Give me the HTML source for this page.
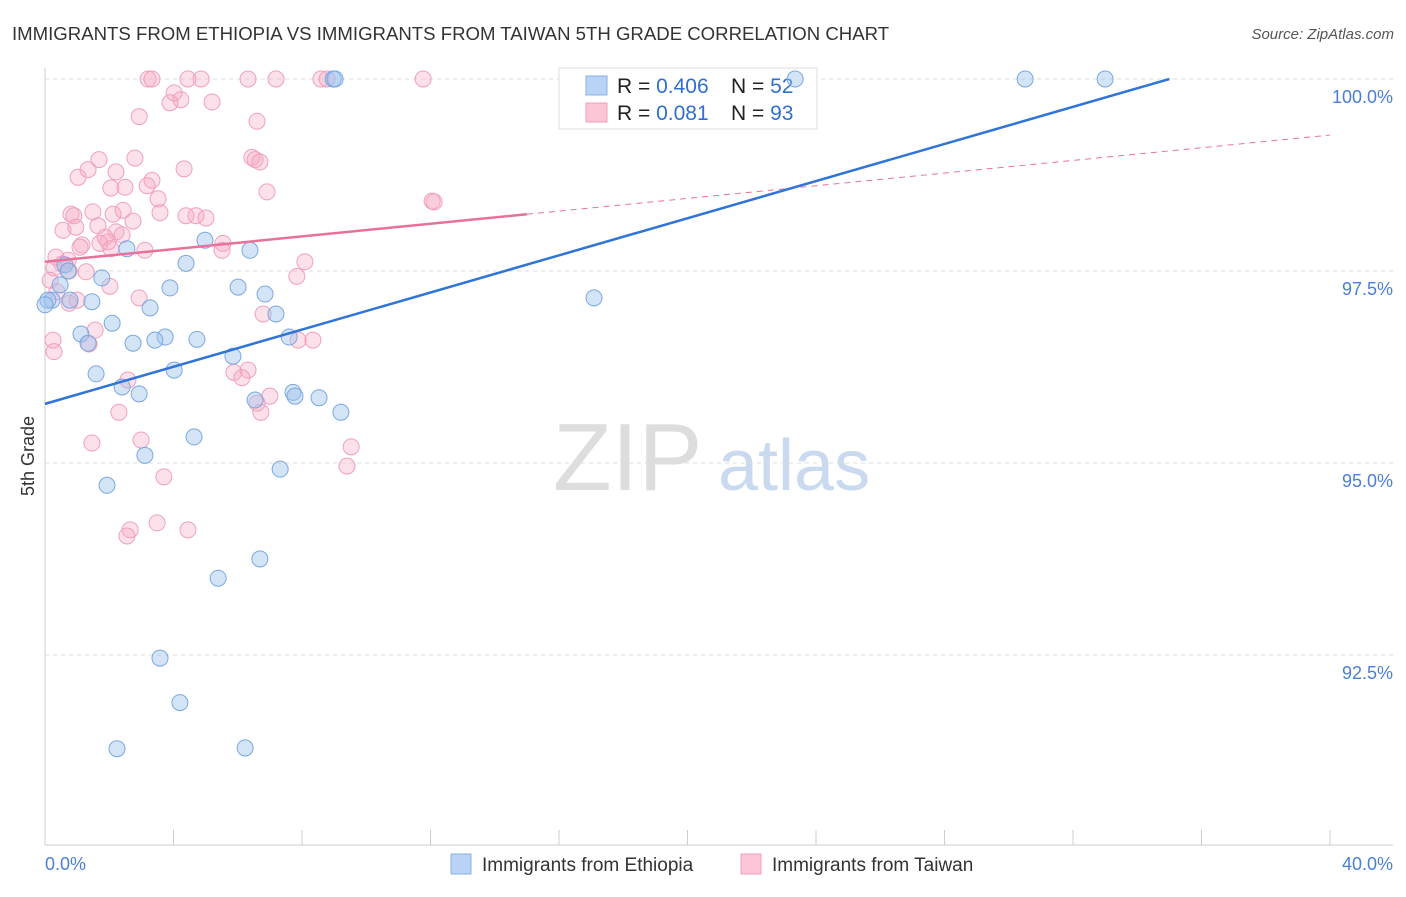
<!DOCTYPE html>
<html><head><meta charset="utf-8"><style>
body{margin:0;background:#fff;font-family:"Liberation Sans",sans-serif;}
svg text{font-family:"Liberation Sans",sans-serif;}
</style></head><body>
<svg id="c" width="1406" height="892" xmlns="http://www.w3.org/2000/svg">
<text x="12" y="40" font-size="18.6" fill="#333">IMMIGRANTS FROM ETHIOPIA VS IMMIGRANTS FROM TAIWAN 5TH GRADE CORRELATION CHART</text>
<text x="1394" y="39" font-size="15" font-style="italic" fill="#555" text-anchor="end">Source: ZipAtlas.com</text>
<text x="34" y="456" font-size="18" fill="#333" text-anchor="middle" transform="rotate(-90 34 456)">5th Grade</text>
<text x="553" y="490" font-size="96" fill="#ddd" font-family="Liberation Serif">ZIP</text>
<text x="718" y="490" font-size="72" fill="#c9daf0">atlas</text>
<g id="grid"></g>
<g>
<rect x="559" y="68" width="258" height="61" fill="#fff" stroke="#ddd"/>
<rect x="586" y="76" width="21" height="19" fill="#b8d3f5" stroke="#8ab0e4"/>
<rect x="586" y="103" width="21" height="19" fill="#fbc5d6" stroke="#f0a0bb"/>
<text x="617" y="93" font-size="21" fill="#222">R = <tspan fill="#2f6fd0">0.406</tspan></text>
<text x="731" y="93" font-size="21" fill="#222">N = <tspan fill="#2f6fd0">52</tspan></text>
<text x="617" y="120" font-size="21" fill="#222">R =  <tspan fill="#2f6fd0">0.081</tspan></text>
<text x="731" y="120" font-size="21" fill="#222">N = <tspan fill="#2f6fd0">93</tspan></text>
</g>
<g id="pts"></g><g id="lines"></g>
<g>
<rect x="451" y="854" width="20" height="20" fill="#b8d3f5" stroke="#8ab0e4"/>
<text x="482" y="871" font-size="19" fill="#333">Immigrants from Ethiopia</text>
<rect x="741" y="854" width="20" height="20" fill="#fbc5d6" stroke="#f0a0bb"/>
<text x="772" y="871" font-size="19" fill="#333">Immigrants from Taiwan</text>
</g>
<text x="45" y="870" font-size="18" fill="#4a7fd6">0.0%</text>
<text x="1393" y="870" font-size="18" fill="#4a7fd6" text-anchor="end">40.0%</text>
</svg>
<script>
const yTicks=[100,97.5,95,92.5];
const yTickLabels=["100.0%","97.5%","95.0%","92.5%"];
const xTicks=[0,4,8,12,16,20,24,28,32,36,40];
const ethX=[8.97,9.03,23.35,30.51,33.0,4.98,2.55,6.38,0.62,4.39,0.72,1.77,3.89,6.01,6.85,0.22,1.46,3.27,7.19,2.09,1.12,3.74,1.34,2.74,3.42,4.73,7.60,5.85,4.02,1.59,2.40,2.93,7.72,7.78,8.53,6.54,9.21,4.64,3.11,7.32,1.93,17.09,6.69,5.39,3.58,4.20,2.24,6.23,0.09,0.47,0.78,0];
const ethY=[100,100,100,100,100,97.90,97.79,97.77,97.58,97.60,97.50,97.41,97.28,97.29,97.20,97.12,97.10,97.02,96.94,96.82,96.68,96.64,96.56,96.56,96.60,96.61,96.64,96.39,96.21,96.16,95.99,95.90,95.92,95.87,95.85,95.82,95.66,95.34,95.10,94.92,94.71,97.15,93.75,93.50,92.46,91.88,91.28,91.29,97.12,97.32,97.12,97.06];
const twX=[3.21,3.33,4.45,4.86,6.32,7.19,8.59,8.78,11.77,4.02,4.23,5.20,3.89,2.93,6.60,4.33,1.68,2.80,6.44,6.54,6.69,1.03,1.34,2.21,3.33,2.49,2.05,3.18,6.91,3.52,12.05,12.11,1.49,0.81,0.90,2.12,2.43,3.58,4.39,4.70,5.01,2.74,0.96,0.56,1.65,2.21,1.87,2.40,1.96,1.71,1.15,1.09,2.05,3.11,5.54,5.51,0.34,0.72,0.53,0.28,0.75,1.28,0.16,8.09,7.84,0.37,1.00,0.75,2.93,2.02,1.56,1.37,6.79,8.34,7.88,0.25,0.28,2.58,5.88,6.32,6.13,7.00,6.60,6.72,2.30,1.46,2.99,9.53,9.40,3.70,2.65,2.55,3.49,4.45];
const twY=[100,100,100,100,100,100,100,100,100,99.82,99.73,99.70,99.69,99.51,99.45,98.83,98.95,98.97,98.98,98.95,98.92,98.72,98.82,98.79,98.68,98.59,98.58,98.61,98.53,98.44,98.41,98.40,98.27,98.24,98.22,98.24,98.29,98.26,98.22,98.22,98.19,98.15,98.07,98.03,98.09,98.01,97.94,97.97,97.88,97.86,97.84,97.81,97.79,97.77,97.86,97.77,97.68,97.64,97.59,97.54,97.50,97.49,97.38,97.62,97.43,97.23,97.12,97.08,97.15,97.30,96.73,96.55,96.94,96.60,96.60,96.60,96.45,96.08,96.18,96.21,96.11,95.87,95.78,95.66,95.66,95.26,95.30,95.21,94.96,94.82,94.13,94.05,94.22,94.13];
const ethLine=[95.77,100.0];
const twLine=[97.62,99.27];
const NS="http://www.w3.org/2000/svg";
const X=v=>45+v*32.125, Y=v=>79+(100-v)*76.8;
function mk(tag,attrs,parent){const e=document.createElementNS(NS,tag);for(const k in attrs)e.setAttribute(k,attrs[k]);parent.appendChild(e);return e;}
const grid=document.getElementById('grid');
mk('line',{x1:45,y1:68,x2:45,y2:845,stroke:'#ccc'},grid);
mk('line',{x1:45,y1:845,x2:1393,y2:845,stroke:'#ccc'},grid);
yTicks.forEach((t,i)=>{
 const l=mk('line',{x1:45,y1:Y(t),x2:1393,y2:Y(t),stroke:'#ddd','stroke-dasharray':'4,4'},grid);
 
 
 const tx=mk('text',{x:1393,y:Y(t)+24,'font-size':18,fill:'#4a7fd6','text-anchor':'end'},grid);
 tx.textContent=yTickLabels[i];
 
 
});
xTicks.forEach(t=>{
 const l=mk('line',{x1:X(t),y1:830,x2:X(t),y2:845,stroke:'#ccc'},grid);
 
 
});
const pts=document.getElementById('pts');
twX.forEach((x,i)=>{
 const c=mk('circle',{cx:X(x),cy:Y(twY[i]),r:8,fill:'rgba(246,168,195,0.35)',stroke:'#f0a0bb','stroke-width':1},pts);
 
 
});
ethX.forEach((x,i)=>{
 const c=mk('circle',{cx:X(x),cy:Y(ethY[i]),r:8,fill:'rgba(160,195,238,0.45)',stroke:'#7aa8e0','stroke-width':1},pts);
 
 
});
const lines=document.getElementById('lines');
const tl=(twLine[1]-twLine[0])/40;
const p1=mk('line',{x1:X(0),y1:Y(twLine[0]),x2:X(15),y2:Y(twLine[0]+tl*15),stroke:'#e8719c','stroke-width':2.5},lines);


const p2=mk('line',{x1:X(15),y1:Y(twLine[0]+tl*15),x2:X(40),y2:Y(twLine[1]),stroke:'#e8719c','stroke-width':1,'stroke-dasharray':'6,5'},lines);


const b=mk('line',{x1:X(0),y1:Y(ethLine[0]),x2:X(35),y2:Y(ethLine[1]),stroke:'#2f74d6','stroke-width':2.5},lines);


</script>
</body></html>
